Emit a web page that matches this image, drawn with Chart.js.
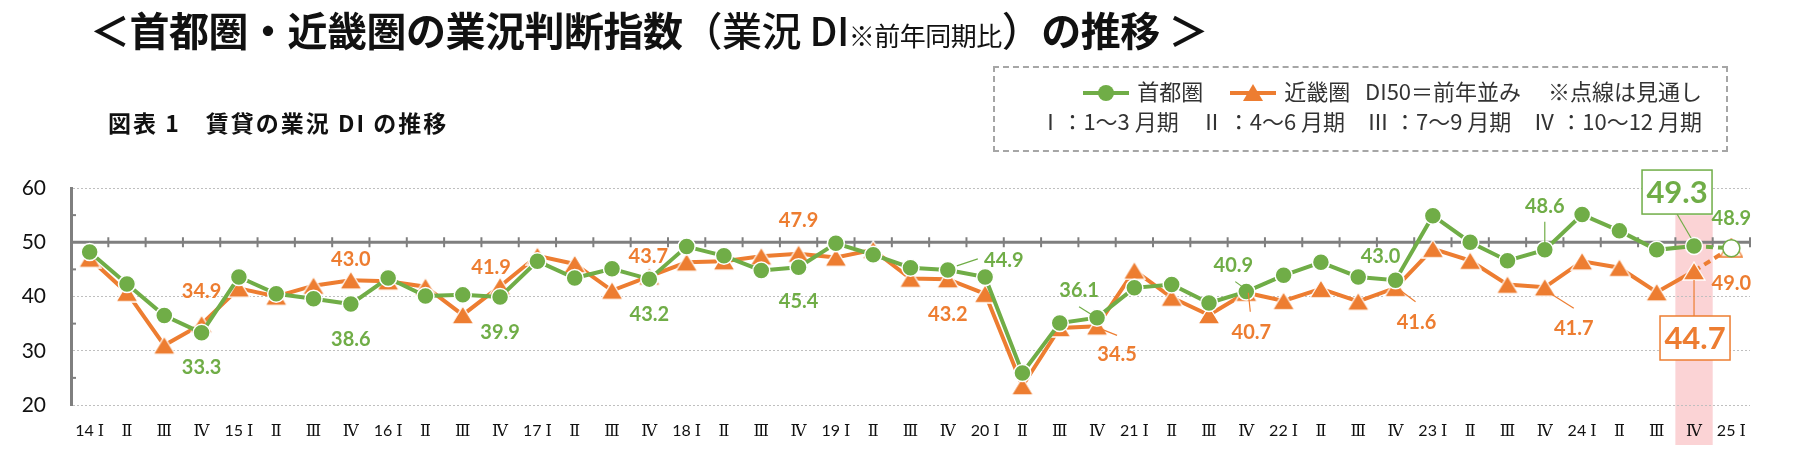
<!DOCTYPE html>
<html>
<head>
<meta charset="utf-8">
<script src="https://cdn.jsdelivr.net/npm/chart.js@4"></script>
<style>
  body { margin: 0; background: #fff; }
  #wrap { position: relative; width: 1806px; height: 453px; overflow: hidden; font-family: "Noto Sans CJK JP", sans-serif; }
  #chart { position: absolute; left: 0; top: 0; }
  .title { position: absolute; left: 90px; top: 0px; font-size: 40px; font-weight: 700; color: #111; white-space: nowrap; letter-spacing: -0.5px; }
  .title .mid { font-weight: 500; }
  .title .small { font-size: 26px; font-weight: 400; }
  .sub { position: absolute; left: 108px; top: 105px; font-size: 23px; font-weight: 700; color: #111; white-space: nowrap; letter-spacing: 2px; }
  .legend { position: absolute; left: 993px; top: 66px; width: 731px; height: 82px; border: 2px dashed #a6a6a6; color: #333; font-size: 22px; }
  .legend .row { position: absolute; right: 24px; white-space: nowrap; }
  .legend svg { vertical-align: -2px; margin: 0 8px 0 22px; }
</style>
</head>
<body>
<div id="wrap">
  <canvas id="chart" width="1806" height="453"></canvas>
  <div class="title">＜首都圏・近畿圏の業況判断指数<span class="mid">（業況 DI</span><span class="small">※前年同期比</span><span class="mid">）</span>の推移 ＞</div>
  <div class="sub">図表 1　賃貸の業況 DI の推移</div>
  <div class="legend">
    <div class="row" style="top:6px">
      <svg width="46" height="18"><line x1="0" y1="9" x2="46" y2="9" stroke="#70ad47" stroke-width="4"/><circle cx="23" cy="9" r="8" fill="#70ad47"/></svg>首都圏
      <svg width="46" height="18"><line x1="0" y1="9" x2="46" y2="9" stroke="#ed7d31" stroke-width="4"/><polygon points="23,0 33,17 13,17" fill="#ed7d31"/></svg>近畿圏
      &nbsp;&nbsp;DI50＝前年並み　&nbsp;※点線は見通し
    </div>
    <div class="row" style="top:36px">Ⅰ：1～3 月期　Ⅱ ：4～6 月期　Ⅲ ：7～9 月期　Ⅳ ：10～12 月期</div>
  </div>
</div>
<script>
const GREEN = '#70ad47';
const ORANGE = '#ed7d31';

// 四半期ラベル
const quarters = [
  '14 Ⅰ','Ⅱ','Ⅲ','Ⅳ','15 Ⅰ','Ⅱ','Ⅲ','Ⅳ','16 Ⅰ','Ⅱ','Ⅲ','Ⅳ',
  '17 Ⅰ','Ⅱ','Ⅲ','Ⅳ','18 Ⅰ','Ⅱ','Ⅲ','Ⅳ','19 Ⅰ','Ⅱ','Ⅲ','Ⅳ',
  '20 Ⅰ','Ⅱ','Ⅲ','Ⅳ','21 Ⅰ','Ⅱ','Ⅲ','Ⅳ','22 Ⅰ','Ⅱ','Ⅲ','Ⅳ',
  '23 Ⅰ','Ⅱ','Ⅲ','Ⅳ','24 Ⅰ','Ⅱ','Ⅲ','Ⅳ','25 Ⅰ'
];

// 首都圏
const shutoken = [
  48.2, 42.3, 36.5, 33.3, 43.6, 40.5, 39.6, 38.6, 43.4, 40.1, 40.3, 39.9,
  46.5, 43.4, 45.1, 43.2, 49.2, 47.5, 44.8, 45.4, 49.8, 47.7, 45.3, 44.9,
  43.6, 25.9, 35.1, 36.1, 41.6, 42.2, 38.8, 40.9, 43.9, 46.3, 43.6, 43.0,
  54.9, 50.0, 46.6, 48.6, 55.1, 52.1, 48.6, 49.3, 48.9
];

// 近畿圏
const kinki = [
  47.0, 40.7, 31.0, 34.9, 41.5, 40.0, 42.0, 43.0, 42.8, 41.8, 36.6, 41.9,
  47.5, 46.0, 41.1, 43.7, 46.3, 46.5, 47.4, 47.9, 47.2, 48.6, 43.3, 43.2,
  40.5, 23.5, 34.2, 34.5, 44.8, 39.8, 36.6, 40.7, 39.2, 41.4, 39.1, 41.6,
  48.8, 46.6, 42.2, 41.7, 46.5, 45.3, 40.8, 44.7, 49.0
];

const forecastStart = 44;   // 25 I は見通し
const highlightIndex = 43;  // 24 IV

// 数値ラベルの置き場所 (ds: 0=首都圏, 1=近畿圏)
const valueLabels = [
  { ds: 0, i: 3, dx: 0, dy: 34 },
  { ds: 1, i: 3, dx: 0, dy: -34 },
  { ds: 1, i: 7, dx: 0, dy: -22 },
  { ds: 0, i: 7, dx: 0, dy: 34 },
  { ds: 1, i: 11, dx: -9, dy: -20 },
  { ds: 0, i: 11, dx: 0, dy: 35 },
  { ds: 1, i: 15, dx: -1, dy: -21 },
  { ds: 0, i: 15, dx: 0, dy: 34 },
  { ds: 1, i: 19, dx: 0, dy: -34 },
  { ds: 0, i: 19, dx: 0, dy: 33 },
  { ds: 0, i: 23, dx: 56, dy: -10, line: [9, -4, 30, -11] },
  { ds: 1, i: 23, dx: 0, dy: 34 },
  { ds: 0, i: 27, dx: -18, dy: -28, line: [-18, -11, -2, -1] },
  { ds: 1, i: 27, dx: 20, dy: 27, line: [0, 1, 20, 9] },
  { ds: 0, i: 31, dx: -13, dy: -27, line: [-11, -10, 0, -2] },
  { ds: 1, i: 31, dx: 5, dy: 39, line: [2, 0, 4, 19] },
  { ds: 0, i: 35, dx: -15, dy: -25 },
  { ds: 1, i: 35, dx: 21, dy: 34, line: [4, 2, 20, 14] },
  { ds: 0, i: 39, dx: 0, dy: -44, line: [0, -28, 0, -7] },
  { ds: 1, i: 39, dx: 29, dy: 40, line: [2, 4, 29, 21] },
  { ds: 0, i: 43, dx: -17, dy: -54, box: true, line: [-17, -32, -3, -8] },
  { ds: 1, i: 43, dx: 1, dy: 67, box: true, line: [0, 9, 0, 45] },
  { ds: 0, i: 44, dx: 0, dy: -31 },
  { ds: 1, i: 44, dx: 0, dy: 35 }
];

// Excel風の三角マーカー(外接矩形の中心を値に合わせる)
function makeTriangle(fill, stroke) {
  const c = document.createElement('canvas');
  c.width = 24; c.height = 20;
  const g = c.getContext('2d');
  g.beginPath();
  g.moveTo(12, 1);
  g.lineTo(23, 19);
  g.lineTo(1, 19);
  g.closePath();
  g.fillStyle = fill;
  g.fill();
  g.lineWidth = 1.3;
  g.strokeStyle = stroke;
  g.stroke();
  return c;
}
const triSolid = makeTriangle(ORANGE, '#ffffff');
const triOpen = makeTriangle('#ffffff', ORANGE);

const bandPlugin = {
  id: 'band',
  beforeDraw(chart) {
    const { ctx, scales: { x, y }, chartArea } = chart;
    const step = x.getPixelForValue(1) - x.getPixelForValue(0);
    const cx = x.getPixelForValue(highlightIndex);
    ctx.save();
    ctx.fillStyle = '#fbd3d5';
    ctx.fillRect(cx - step / 2, y.getPixelForValue(55), step, chartArea.bottom + 40 - y.getPixelForValue(55));
    ctx.restore();
  }
};

const baseLinePlugin = {
  id: 'baseLine',
  beforeDatasetsDraw(chart) {
    const { ctx, scales: { x, y }, chartArea } = chart;
    const y50 = y.getPixelForValue(50);
    const step = x.getPixelForValue(1) - x.getPixelForValue(0);
    ctx.save();
    ctx.strokeStyle = '#7f7f7f';
    ctx.lineWidth = 3;
    ctx.beginPath();
    ctx.moveTo(chartArea.left, y50);
    ctx.lineTo(chartArea.right, y50);
    ctx.stroke();
    ctx.lineWidth = 2;
    for (let i = 0; i < quarters.length; i++) {
      const bx = x.getPixelForValue(i) + step / 2;
      ctx.beginPath();
      ctx.moveTo(bx, y50 - 5);
      ctx.lineTo(bx, y50 + 5);
      ctx.stroke();
    }
    // 縦軸の補助目盛
    [55, 45, 35, 25].forEach(v => {
      const py = y.getPixelForValue(v);
      ctx.beginPath();
      ctx.moveTo(chartArea.left, py);
      ctx.lineTo(chartArea.left + 5, py);
      ctx.stroke();
    });
    ctx.restore();
  }
};

const labelPlugin = {
  id: 'valueLabels',
  afterDatasetsDraw(chart) {
    const { ctx } = chart;
    ctx.save();
    valueLabels.forEach(l => {
      const pt = chart.getDatasetMeta(l.ds).data[l.i];
      const color = l.ds === 0 ? GREEN : ORANGE;
      const text = chart.data.datasets[l.ds].data[l.i].toFixed(1);
      if (l.line) {
        ctx.strokeStyle = color;
        ctx.lineWidth = 1.2;
        ctx.beginPath();
        ctx.moveTo(pt.x + l.line[0], pt.y + l.line[1]);
        ctx.lineTo(pt.x + l.line[2], pt.y + l.line[3]);
        ctx.stroke();
      }
      const cx = pt.x + l.dx, cy = pt.y + l.dy;
      if (l.box) {
        ctx.fillStyle = '#fff';
        ctx.fillRect(cx - 35, cy - 22, 70, 44);
        ctx.strokeStyle = color;
        ctx.lineWidth = 1.5;
        ctx.strokeRect(cx - 35, cy - 22, 70, 44);
        ctx.font = 'bold 31px Lato, sans-serif';
      } else {
        ctx.font = 'bold 20px Lato, sans-serif';
      }
      ctx.fillStyle = color;
      ctx.textAlign = 'center';
      ctx.textBaseline = 'middle';
      ctx.fillText(text, cx, cy + 1);
    });
    ctx.restore();
  }
};

const pointFill = color => c => c.dataIndex >= forecastStart ? '#ffffff' : color;
const pointEdge = color => c => c.dataIndex >= forecastStart ? color : '#ffffff';
const dashed = c => c.p1DataIndex >= forecastStart ? [7, 5] : undefined;

new Chart(document.getElementById('chart'), {
  type: 'line',
  data: {
    labels: quarters,
    datasets: [{
      label: '首都圏',
      data: shutoken,
      borderColor: GREEN,
      backgroundColor: GREEN,
      borderWidth: 4,
      pointStyle: 'circle',
      pointRadius: 8.5,
      pointBackgroundColor: pointFill(GREEN),
      pointBorderColor: pointEdge(GREEN),
      pointBorderWidth: 1.5,
      segment: { borderDash: dashed }
    }, {
      label: '近畿圏',
      data: kinki,
      borderColor: ORANGE,
      backgroundColor: ORANGE,
      borderWidth: 4,
      pointStyle: c => c.dataIndex >= forecastStart ? triOpen : triSolid,
      pointRadius: 10,
      segment: { borderDash: dashed }
    }]
  },
  options: {
    responsive: false,
    animation: false,
    devicePixelRatio: 1,
    layout: { padding: { top: 188, right: 56, left: 0, bottom: 0 } },
    plugins: { legend: { display: false }, tooltip: { enabled: false } },
    scales: {
      x: {
        offset: true,
        grid: { display: false, drawTicks: false },
        border: { display: false },
        ticks: {
          autoSkip: false,
          maxRotation: 0,
          padding: 16,
          color: '#111',
          font: { size: 16, family: "Lato, 'DejaVu Serif', serif" }
        },
        afterFit: s => { s.height = 48; }
      },
      y: {
        min: 20,
        max: 60,
        ticks: {
          stepSize: 5,
          padding: 25,
          color: '#111',
          font: { size: 21, family: 'Lato, sans-serif' },
          callback: v => v % 10 === 0 ? v : ''
        },
        grid: { color: '#bfbfbf', lineWidth: 1, drawTicks: false },
        border: { display: true, color: '#7f7f7f', width: 3, dash: [2, 2] },
        afterFit: s => { s.width = 71; }
      }
    }
  },
  plugins: [bandPlugin, baseLinePlugin, labelPlugin]
});
</script>
</body>
</html>
